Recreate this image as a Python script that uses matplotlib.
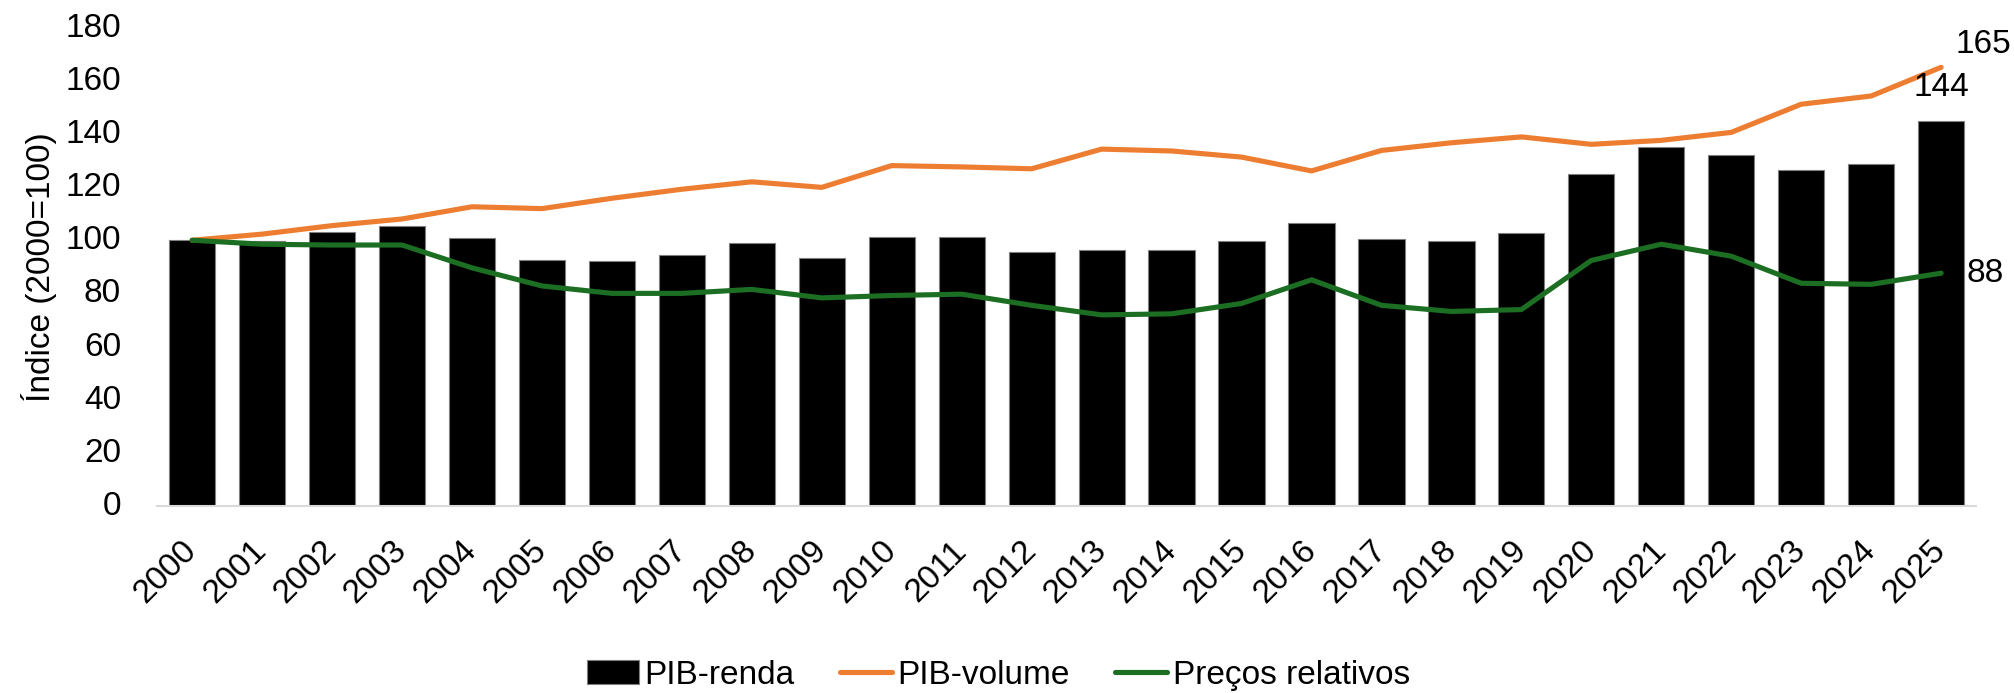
import numpy as np
import matplotlib.pyplot as plt
import matplotlib.transforms as mtransforms

plt.rcParams['font.family'] = ['Liberation Sans', 'DejaVu Sans']

anos = [str(a) for a in range(2000, 2026)]
pib_renda = [100, 99.6, 103.2, 105.5, 101.0, 92.4, 92.1, 94.6, 99.1, 93.5,
             101.2, 101.4, 95.4, 96.2, 96.2, 99.6, 106.4, 100.4, 99.6, 102.6,
             124.9, 135.1, 132.2, 126.5, 128.6, 144.7]
pib_volume = [100, 102.3, 105.5, 108.0, 112.6, 111.9, 115.8, 119.2, 122.0, 119.9,
              128.1, 127.6, 126.9, 134.3, 133.6, 131.3, 126.1, 133.8, 136.7, 138.9,
              136.1, 137.6, 140.6, 151.2, 154.3, 165.1]
precos_rel = [100, 98.5, 98.2, 98.2, 89.6, 82.8, 80.0, 80.0, 81.5, 78.3,
              79.2, 79.7, 75.5, 71.9, 72.3, 76.2, 85.1, 75.5, 73.2, 73.9,
              92.4, 98.5, 94.0, 83.8, 83.4, 87.6]

fs = 24
fig = plt.figure(figsize=(20.15, 6.93), dpi=100)
ax = fig.add_axes([0.078, 0.27, 0.9027, 0.69])

x = np.arange(len(anos))
b = ax.bar(x, pib_renda, width=0.66, color='black', edgecolor='#7f7f7f', linewidth=0.8,
           label='PIB-renda', zorder=2)
l1, = ax.plot(x, pib_volume, color='#ED7D31', lw=3.7, solid_capstyle='round',
              label='PIB-volume', zorder=3)
l2, = ax.plot(x, precos_rel, color='#1C6E23', lw=3.7, solid_capstyle='round',
              label='Preços relativos', zorder=3)

# rótulos do último ano
ax.text(x[-1] + 0.2, pib_volume[-1] + 8.5, f'{pib_volume[-1]:.0f}', fontsize=fs,
        ha='left', va='center', zorder=4)
ax.text(x[-1], pib_renda[-1] + 12.7, f'{int(pib_renda[-1])}', fontsize=fs,
        ha='center', va='center', zorder=4)
ax.text(x[-1] + 0.36, precos_rel[-1], f'{precos_rel[-1]:.0f}', fontsize=fs,
        ha='left', va='center', zorder=4)

ax.set_xlim(-0.5, len(anos) - 0.5)
ax.set_ylim(0, 180)
ax.set_yticks(range(0, 181, 20))
ax.set_xticks(x)
ax.set_xticklabels(anos, rotation=45, ha='right', rotation_mode='anchor')
ax.tick_params(axis='both', labelsize=fs, length=0)
ax.tick_params(axis='x', pad=21)
ax.tick_params(axis='y', pad=26)
ax.set_ylabel('Índice (2000=100)', fontsize=fs, labelpad=6)

shift = mtransforms.ScaledTranslation(-0.11, 0, fig.dpi_scale_trans)
for lab in ax.get_xticklabels():
    lab.set_transform(lab.get_transform() + shift)
up = mtransforms.ScaledTranslation(0, 0.03, fig.dpi_scale_trans)
for lab in ax.get_yticklabels():
    lab.set_transform(lab.get_transform() + up)

for s in ['top', 'right', 'left']:
    ax.spines[s].set_visible(False)
ax.spines['bottom'].set_color('#d9d9d9')
ax.spines['bottom'].set_linewidth(1.5)

fig.legend([b, l1, l2], ['PIB-renda', 'PIB-volume', 'Preços relativos'],
           loc='lower center', ncol=3, frameon=False, fontsize=fs,
           bbox_to_anchor=(0.4955, -0.04), handlelength=1.55, handletextpad=0.18,
           columnspacing=1.35)

fig.savefig('out.png', dpi=100)
